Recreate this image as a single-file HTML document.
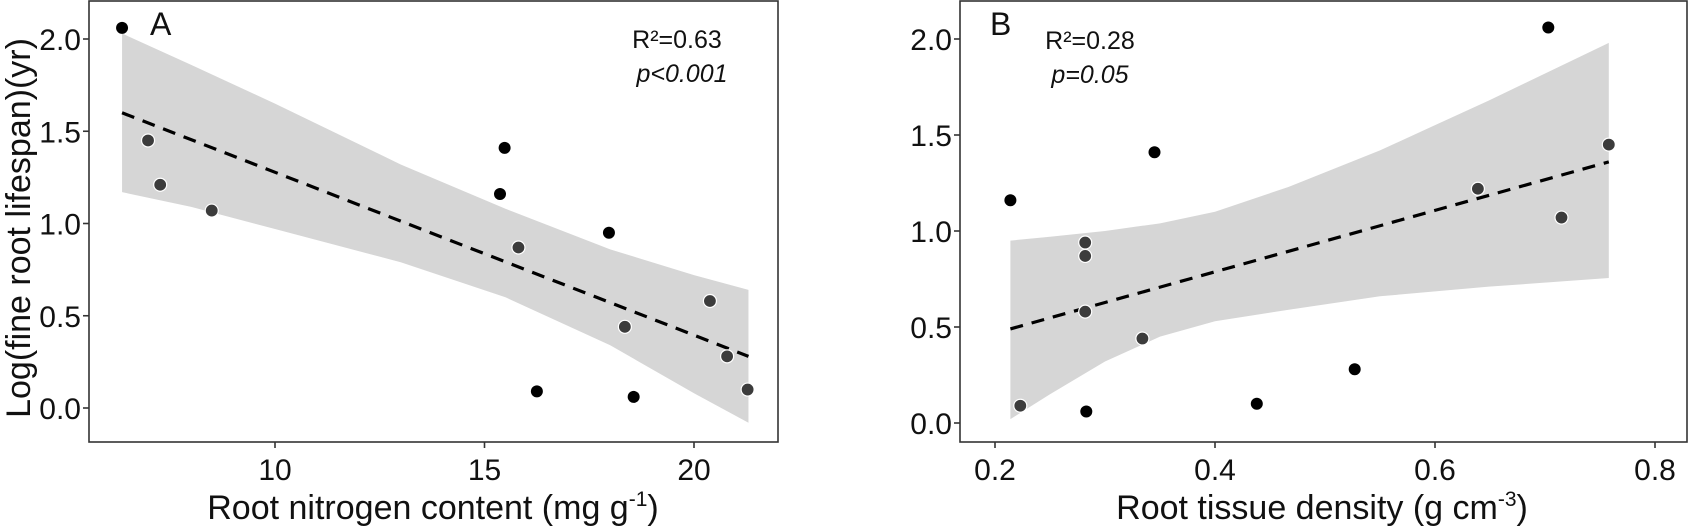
<!DOCTYPE html>
<html><head><meta charset="utf-8"><style>
html,body{margin:0;padding:0;background:#fff;}
svg{display:block;font-family:"Liberation Sans",Arial,sans-serif;}
</style></head><body>
<svg id="chart" width="1689" height="526" viewBox="0 0 1689 526" xmlns="http://www.w3.org/2000/svg"></svg>
<script>
// Panel A data
const aX = [6.35, 6.97, 7.26, 8.49, 15.37, 15.48, 15.81, 17.97, 16.25, 18.35, 18.56, 20.38, 20.79, 21.28];
const aY = [2.06, 1.45, 1.21, 1.07, 1.16, 1.41, 0.87, 0.95, 0.09, 0.44, 0.06, 0.58, 0.28, 0.10];
const aDark = [0,1,1,1,0,0,1,0,0,1,0,1,1,1];
const aFitX = [6.35, 21.3];
const aFitY = [1.60, 0.28];
const aBandX = [6.35, 8, 10, 13, 15.5, 18, 20, 21.3];
const aBandUp = [2.03, 1.86, 1.65, 1.32, 1.08, 0.86, 0.72, 0.64];
const aBandLo = [1.17, 1.09, 0.97, 0.79, 0.60, 0.34, 0.08, -0.08];
const aXTicks = [10, 15, 20];
const aYTicks = [0.0, 0.5, 1.0, 1.5, 2.0];
// Panel B data
const bX = [0.214, 0.223, 0.282, 0.282, 0.282, 0.283, 0.345, 0.334, 0.438, 0.527, 0.639, 0.703, 0.715, 0.758];
const bY = [1.16, 0.09, 0.94, 0.87, 0.58, 0.06, 1.41, 0.44, 0.10, 0.28, 1.22, 2.06, 1.07, 1.45];
const bDark = [0,1,1,1,1,0,0,1,0,0,1,0,1,1];
const bFitX = [0.214, 0.758];
const bFitY = [0.49, 1.36];
const bBandX = [0.214, 0.25, 0.3, 0.35, 0.4, 0.467, 0.55, 0.649, 0.758];
const bBandUp = [0.95, 0.97, 1.0, 1.04, 1.10, 1.23, 1.42, 1.68, 1.98];
const bBandLo = [0.02, 0.15, 0.32, 0.45, 0.53, 0.59, 0.66, 0.71, 0.755];
const bXTicks = [0.2, 0.4, 0.6, 0.8];
const bYTicks = [0.0, 0.5, 1.0, 1.5, 2.0];

const NS = "http://www.w3.org/2000/svg";
const svg = document.getElementById('chart');
function mk(tag, attrs, parent, text) {
  const e = document.createElementNS(NS, tag);
  for (const k in attrs) e.setAttribute(k, attrs[k]);
  if (text !== undefined) e.textContent = text;
  (parent || svg).appendChild(e);
  return e;
}

function panel(cfg) {
  const g = mk('g', {});
  
  
  const sx = v => cfg.x0px + (v - cfg.x0v) * cfg.pxPerX;
  const sy = v => cfg.y0px - v * cfg.pxPerY;
  let d = '';
  cfg.bandX.forEach((v, i) => { d += (i ? 'L' : 'M') + sx(v) + ',' + sy(cfg.bandUp[i]); });
  for (let i = cfg.bandX.length - 1; i >= 0; i--) d += 'L' + sx(cfg.bandX[i]) + ',' + sy(cfg.bandLo[i]);
  const band = mk('path', {d: d + 'Z', fill: '#d6d6d6'}, g);
  
  
  const fit = mk('line', {x1: sx(cfg.fitX[0]), y1: sy(cfg.fitY[0]), x2: sx(cfg.fitX[1]), y2: sy(cfg.fitY[1]), stroke: '#000', 'stroke-width': 3.2, 'stroke-dasharray': '13,9'}, g);
  
  
  cfg.px.forEach((v, i) => {
    const c = mk('circle', {cx: sx(v), cy: sy(cfg.py[i]), r: cfg.dark[i] ? 6.5 : 6, fill: cfg.dark[i] ? '#3c3c3c' : '#000', stroke: cfg.dark[i] ? '#fff' : 'none', 'stroke-width': 1.2}, g);
    
    
  });
  const fr = mk('rect', {x: cfg.left, y: cfg.top, width: cfg.right - cfg.left, height: cfg.bottom - cfg.top, fill: 'none', stroke: '#333', 'stroke-width': 1.6}, g);
  
  
  cfg.xTicks.forEach(t => {
    const X = sx(t);
    mk('line', {x1: X, y1: cfg.bottom, x2: X, y2: cfg.bottom + 6, stroke: '#333', 'stroke-width': 1.6}, g);
    const lb = mk('text', {x: X, y: cfg.bottom + 38, 'text-anchor': 'middle', 'font-size': 30, fill: '#111'}, g, cfg.xFmt(t));
    
    
  });
  cfg.yTicks.forEach(t => {
    const Y = sy(t);
    mk('line', {x1: cfg.left - 6, y1: Y, x2: cfg.left, y2: Y, stroke: '#333', 'stroke-width': 1.6}, g);
    const lb = mk('text', {x: cfg.left - 8, y: Y + 11, 'text-anchor': 'end', 'font-size': 30, fill: '#111'}, g, t.toFixed(1));
    
    
  });
  return g;
}

panel({name: 'panel-a', left: 89, right: 778, top: 1, bottom: 442,
  x0v: 10, x0px: 275, pxPerX: 41.9, y0px: 408, pxPerY: 184.5,
  px: aX, py: aY, dark: aDark, fitX: aFitX, fitY: aFitY,
  bandX: aBandX, bandUp: aBandUp, bandLo: aBandLo,
  xTicks: aXTicks, yTicks: aYTicks, xFmt: t => String(t)});
panel({name: 'panel-b', left: 960, right: 1687, top: 1, bottom: 442,
  x0v: 0.2, x0px: 995, pxPerX: 1100, y0px: 423, pxPerY: 192,
  px: bX, py: bY, dark: bDark, fitX: bFitX, fitY: bFitY,
  bandX: bBandX, bandUp: bBandUp, bandLo: bBandLo,
  xTicks: bXTicks, yTicks: bYTicks, xFmt: t => t.toFixed(1)});
</script>
<script>
(function(){
const NS = "http://www.w3.org/2000/svg";
const svg = document.getElementById('chart');
function t(x, y, size, str, name, extra) {
  const e = document.createElementNS(NS, 'text');
  e.setAttribute('x', x); e.setAttribute('y', y);
  e.setAttribute('font-size', size); e.setAttribute('fill', '#111');
  if (extra) for (const k in extra) e.setAttribute(k, extra[k]);
  e.innerHTML = str;
  
  
  svg.appendChild(e);
  return e;
}
t(150, 35, 32, 'A', 'panel-a-label');
t(990, 35, 32, 'B', 'panel-b-label');
t(677, 48, 25, 'R²=0.63', 'panel-a-r-squared', {'text-anchor':'middle'});
t(682, 82, 25, 'p&lt;0.001', 'panel-a-p-value', {'text-anchor':'middle','font-style':'italic'});
t(1090, 49, 25, 'R²=0.28', 'panel-b-r-squared', {'text-anchor':'middle'});
t(1090, 83, 25, 'p=0.05', 'panel-b-p-value', {'text-anchor':'middle','font-style':'italic'});
t(433, 519, 34, 'Root nitrogen content (mg g<tspan dy="-13" font-size="21">-1</tspan><tspan dy="13">)</tspan>', 'x-axis-title-a', {'text-anchor':'middle'});
t(1322, 519, 34, 'Root tissue density (g cm<tspan dy="-13" font-size="21">-3</tspan><tspan dy="13">)</tspan>', 'x-axis-title-b', {'text-anchor':'middle'});
t(0, 0, 34, 'Log(fine root lifespan)(yr)', 'y-axis-title', {'text-anchor':'middle','transform':'translate(30,228) rotate(-90)'});
})();
</script>
</body></html>
